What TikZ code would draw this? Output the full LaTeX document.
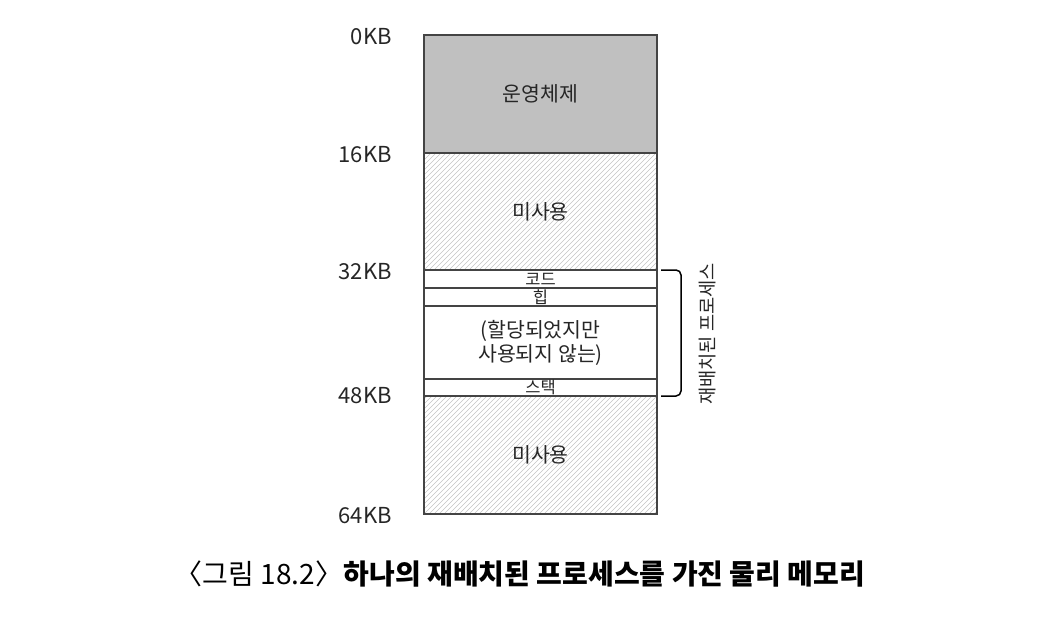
\documentclass[tikz,border=0pt]{standalone}
\usepackage{fontspec}
\setmainfont{Noto Sans CJK KR}
\definecolor{osgray}{HTML}{C0C0C0}
\definecolor{edge}{HTML}{444444}
\definecolor{hatchc}{HTML}{C4C4C4}
\begin{document}
\begin{tikzpicture}[x=1pt,y=-1pt,
  region/.style={draw=edge, line width=1.1pt, minimum width=233pt, inner sep=0pt, outer sep=0pt, font=\fontsize{20.5}{24}\selectfont, text=black!85},
  small/.style={font=\fontsize{16.5}{18}\selectfont},
  hatched/.style={path picture={
    \foreach \k in {-130,-125,...,240} {
      \draw[hatchc, line width=0.6pt] ([xshift=\k pt]path picture bounding box.south west) -- ++(130pt,130pt);
    }}},
  addr/.style={anchor=east, inner sep=0pt, font=\fontsize{22}{26}\selectfont, text=black!85},
]
\useasboundingbox (0,0) rectangle (1040,618);
\node[region, fill=osgray, minimum height=118pt] (os) at (540.5,94) {운영체제};
\node[region, fill=white, hatched, minimum height=117pt] (free1) at (540.5,211.5) {미사용};
\node[region, fill=white, minimum height=18pt, small] (code) at (540.5,279) {코드};
\node[region, fill=white, minimum height=18pt, small] (heap) at (540.5,297) {힙};
\node[region, fill=white, minimum height=73pt, align=center] (unalloc) at (540.5,342.5) {(할당되었지만\\사용되지 않는)};
\node[region, fill=white, minimum height=17pt, small] (stack) at (540.5,387.5) {스택};
\node[region, fill=white, hatched, minimum height=118pt] (free2) at (540.5,455) {미사용};

\node[addr] (a0) at (392,37) {0KB};
\node[addr] (a16) at (392,155) {16KB};
\node[addr] (a32) at (392,272) {32KB};
\node[addr] (a48) at (392,396) {48KB};
\node[addr] (a64) at (392,516) {64KB};

\coordinate (bt) at ([xshift=4pt]code.north east);
\coordinate (bb) at ([xshift=4pt]stack.south east);
\draw[line width=1.5pt, rounded corners=5pt] (bt) -- ++(20pt,0) |- (bb);
\node[rotate=90, inner sep=0pt, font=\fontsize{18.7}{22}\selectfont, text=black!85] (proc) at (707,334) {재배치된 프로세스};

\node[inner sep=0pt, font=\fontsize{28}{31}\selectfont] (cap) at (520,574) {〈그림 18.2〉\hspace{-0.2em} \textbf{하나의 재배치된 프로세스를 가진 물리 메모리}};
\end{tikzpicture}
\end{document}
